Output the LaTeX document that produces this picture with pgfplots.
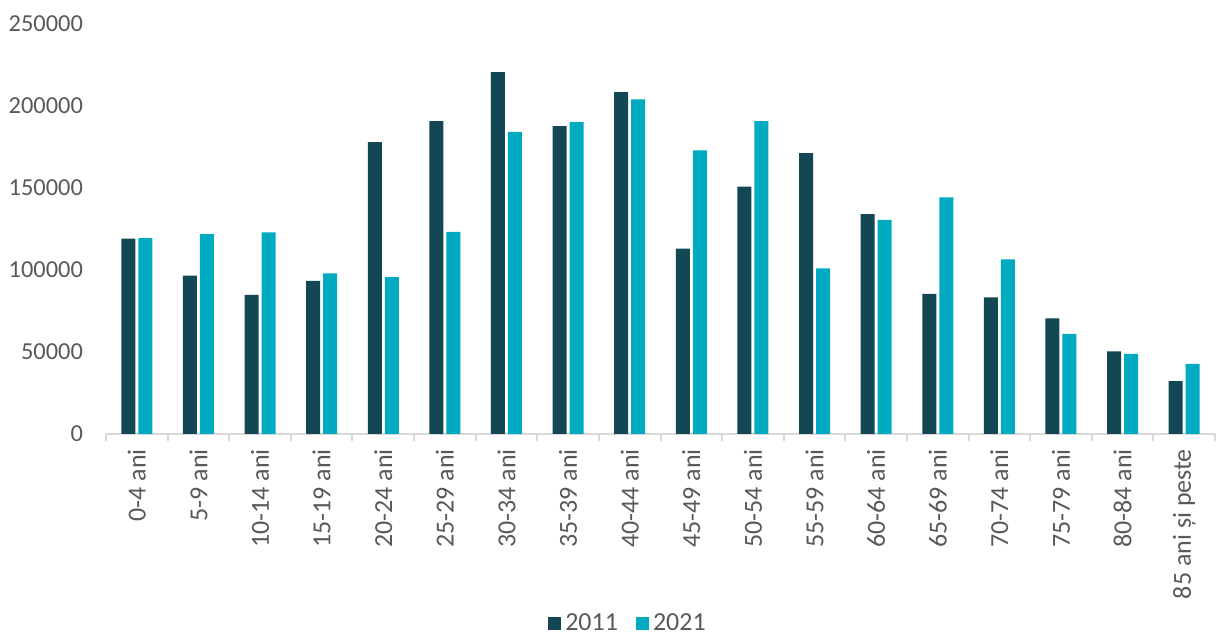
\documentclass[border=0pt]{standalone}
\usepackage{pgfplots}
\pgfplotsset{compat=1.18}
\usepackage{fontspec}
\setmainfont{Carlito}
\definecolor{darkteal}{RGB}{20,71,84}
\definecolor{cyanbar}{RGB}{0,170,192}
\definecolor{txtgray}{RGB}{89,89,89}
\definecolor{axgray}{RGB}{217,217,217}
\begin{document}
\begin{tikzpicture}
\begin{axis}[
  at={(53pt,101pt)}, anchor=south west,
  scale only axis,
  width=554.5pt, height=205pt,
  ybar=1.5pt, bar width=7pt,
  xmin=-0.5, xmax=17.5,
  ymin=0, ymax=250000,
  xtick={0,...,17},
  xticklabels={0-4 ani,5-9 ani,10-14 ani,15-19 ani,20-24 ani,25-29 ani,30-34 ani,35-39 ani,40-44 ani,45-49 ani,50-54 ani,55-59 ani,60-64 ani,65-69 ani,70-74 ani,75-79 ani,80-84 ani,85 ani și peste},
  minor xtick={-0.5,0.5,...,17.5},
  ytick={0,50000,100000,150000,200000,250000},
  scaled y ticks=false,
  /pgf/number format/fixed,
  /pgf/number format/set thousands separator={},
  /pgf/number format/assume math mode=true,
  axis x line*=bottom, axis y line*=left,
  x axis line style={draw=axgray, line width=1pt},
  y axis line style={draw=none},
  tick align=outside,
  major tick length=0pt,
  minor tick length=3.5pt,
  minor x tick style={draw=axgray, line width=1pt},
  ytick style={draw=none},
  xticklabel style={rotate=90, anchor=east, font=\fontsize{13}{15}\selectfont, text=txtgray},
  yticklabel style={font=\fontsize{12.2}{14}\selectfont, text=txtgray},
  xticklabel shift=4pt,
  yticklabel shift=8pt,
  legend style={at={(0.4716,-0.462)}, anchor=center, draw=none, fill=none,
    legend columns=2, font=\fontsize{13}{15}\selectfont, text=txtgray,
    /tikz/every even column/.append style={column sep=7pt}},
  legend image code/.code={\fill[#1] (0pt,-3.25pt) rectangle (6.5pt,3.25pt);},
]
\addplot[fill=darkteal, draw=none] coordinates {
(0,119100) (1,96500) (2,84800) (3,93300) (4,177900) (5,190700) (6,220700) (7,187800) (8,208400)
(9,113000) (10,150800) (11,171200) (12,134000) (13,85400) (14,83300) (15,70500) (16,50400) (17,32300)};
\addplot[fill=cyanbar, draw=none] coordinates {
(0,119500) (1,121800) (2,123000) (3,98000) (4,95700) (5,123200) (6,184200) (7,190100) (8,204100)
(9,173000) (10,190700) (11,101000) (12,130500) (13,144300) (14,106500) (15,61000) (16,48800) (17,42700)};
\legend{2011,2021}
\end{axis}
\pgfresetboundingbox
\path[use as bounding box] (0,0) rectangle (608.5pt,318pt);
\end{tikzpicture}
\end{document}
